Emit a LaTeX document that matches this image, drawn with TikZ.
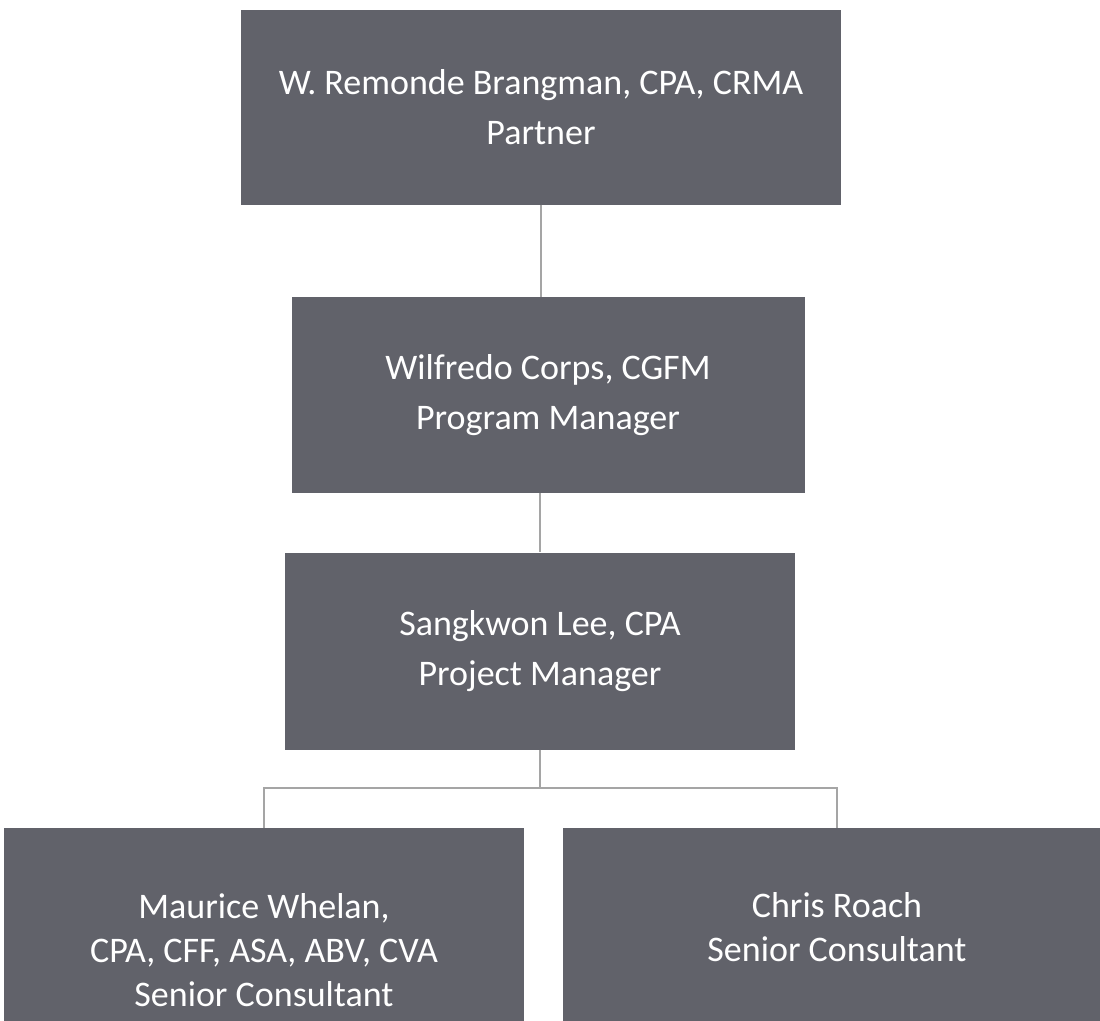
\documentclass[tikz,border=0pt]{standalone}
\usepackage{fontspec}
\setmainfont{Carlito}
\usepackage{tikz}
\usetikzlibrary{positioning}
\definecolor{boxgray}{RGB}{97,98,106}
\definecolor{linegray}{RGB}{165,165,165}

\begin{document}
\begin{tikzpicture}[x=1pt,y=-1pt,
        staff/.style={fill=boxgray,text=white,align=center,inner sep=0pt,
            font=\fontsize{36}{50}\selectfont},
        junior/.style={staff,font=\fontsize{36}{44}\selectfont},
        link/.style={draw=linegray,line width=1.2pt}]
    \useasboundingbox (0,0) rectangle (1100,1020);
    \clip (0,0) rectangle (1100,1020);
    % chain of command
    \node[staff,minimum width=600pt,minimum height=195pt] (partner) at (541,107) {W. Remonde Brangman, CPA, CRMA\\Partner};
    \node[staff,minimum width=513pt,minimum height=196pt] (progman) at (548,395) {Wilfredo Corps, CGFM\\Program Manager};
    \node[staff,minimum width=510pt,minimum height=197pt] (projman) at (540,651) {Sangkwon Lee, CPA\\Project Manager};
    % consultants
    \node[junior,minimum width=520pt,minimum height=244pt] (whelan) at (264,950) {Maurice Whelan,\\CPA, CFF, ASA, ABV, CVA\\Senior Consultant};
    \node[junior,minimum width=548pt,minimum height=198pt] (roach) at (837,927) {Chris Roach\\Senior Consultant};
    \coordinate (bus) at (538,788);
    \draw[link] (partner.south) -- (partner.south |- progman.north);
    \draw[link] (progman.south -| projman.north) -- (projman.north);
    \draw[link] (projman.south) -- (projman.south |- bus);
    \draw[link] (whelan.north) |- (bus) -| (roach.north);
\end{tikzpicture}
\end{document}
